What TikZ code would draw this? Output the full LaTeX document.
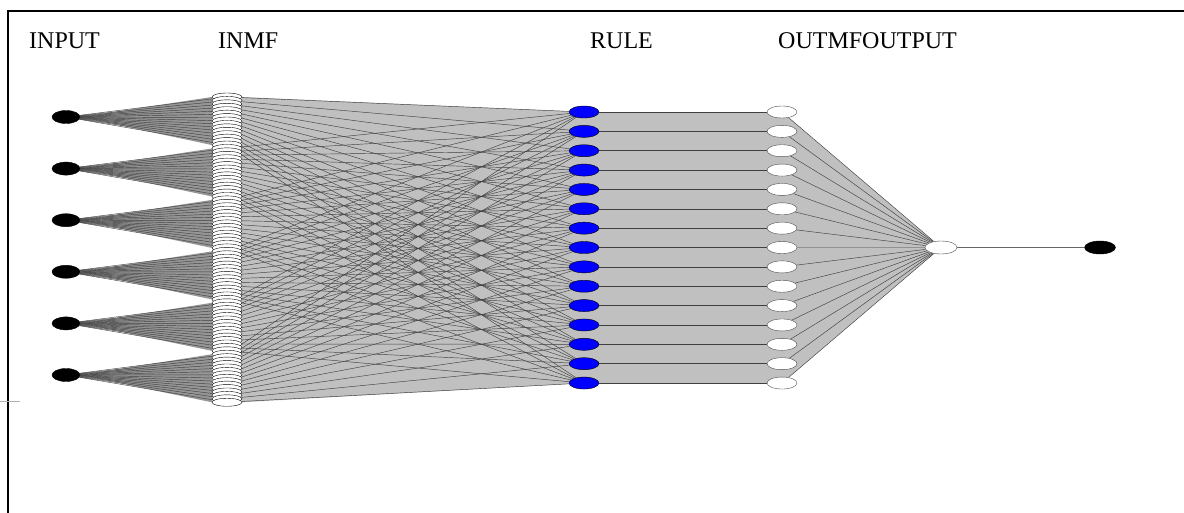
\documentclass[tikz,border=0pt]{standalone}
\usepackage{fontspec}
\setmainfont{Liberation Serif}
\usetikzlibrary{shapes.geometric,backgrounds}
\definecolor{fisgray}{RGB}{192,192,192}
\definecolor{fanfill}{RGB}{150,150,150}

\begin{document}
\begin{tikzpicture}[x=1pt,y=-1pt,
  blob/.style={shape=ellipse, draw, inner sep=0pt, minimum width=30pt, minimum height=12pt},
  mfblob/.style={shape=ellipse, draw, fill=white, line width=0.4pt, inner sep=0pt, minimum width=30pt, minimum height=8pt},
  title/.style={anchor=base west, inner sep=0pt, font=\fontsize{24}{28}\selectfont},
  wire/.style={draw=black!75, line width=0.45pt}]
\useasboundingbox (0,0) rectangle (1184,513);
\draw[line width=1.5pt] (8,513) -- (8,11) -- (1184,11);
\draw[black!30, line width=0.5pt] (0,401) -- (20,401);

\node[title] (tin) at (29,49) {INPUT};
\node[title] (tmf) at (218,49) {INMF};
\node[title] (trule) at (590,49) {RULE};
\node[title] (tout) at (778,49) {OUTMFOUTPUT};

\foreach \i in {1,...,6}
  \node[blob, fill=black, minimum width=28pt, minimum height=13pt] (in\i) at (66,{117+51.6*(\i-1)}) {};
\foreach \i in {1,...,6}
  \foreach \j in {1,...,15}
    \node[mfblob] (mf\i-\j) at (227,{97+3.43*(15*(\i-1)+\j-1)}) {};
\foreach \j in {1,...,15}
  \node[blob, fill=blue] (r\j) at (584,{112+19.36*(\j-1)}) {};
\foreach \j in {1,...,15}
  \node[blob, fill=white, draw=black!70] (om\j) at (782,{112+19.36*(\j-1)}) {};
\node[blob, fill=white, draw=black!70, minimum width=32pt, minimum height=13pt] (o) at (941,247.5) {};
\node[blob, fill=black, minimum width=31pt, minimum height=13pt] (y) at (1100,247.5) {};

\begin{scope}[on background layer]
\fill[fisgray] (mf1-1.east) -- (r1.center) -- (r15.center) -- (mf6-15.east) -- cycle;
\fill[fisgray] (r1.center) -- (om1.center) -- (om15.center) -- (r15.center) -- cycle;
\fill[fisgray] (om1.center) -- (o.center) -- (om15.center) -- cycle;
\foreach \i in {1,...,6}
  \fill[fanfill] (in\i.east) -- (mf\i-1.west) -- (mf\i-15.west) -- cycle;
\foreach \i in {1,...,6}
  \foreach \j in {1,...,15}
    \draw[wire] (in\i) -- (mf\i-\j);
\foreach \i in {1,...,6}
  \foreach \j in {1,...,15}
    \draw[wire] (mf\i-\j) -- (r\j);
\foreach \j in {1,...,15}
  \draw[wire] (r\j) -- (om\j);
\foreach \j in {1,...,15}
  \draw[wire] (om\j) -- (o);
\draw[draw=black!60, line width=0.5pt] (o) -- (y);
\end{scope}
\end{tikzpicture}
\end{document}
